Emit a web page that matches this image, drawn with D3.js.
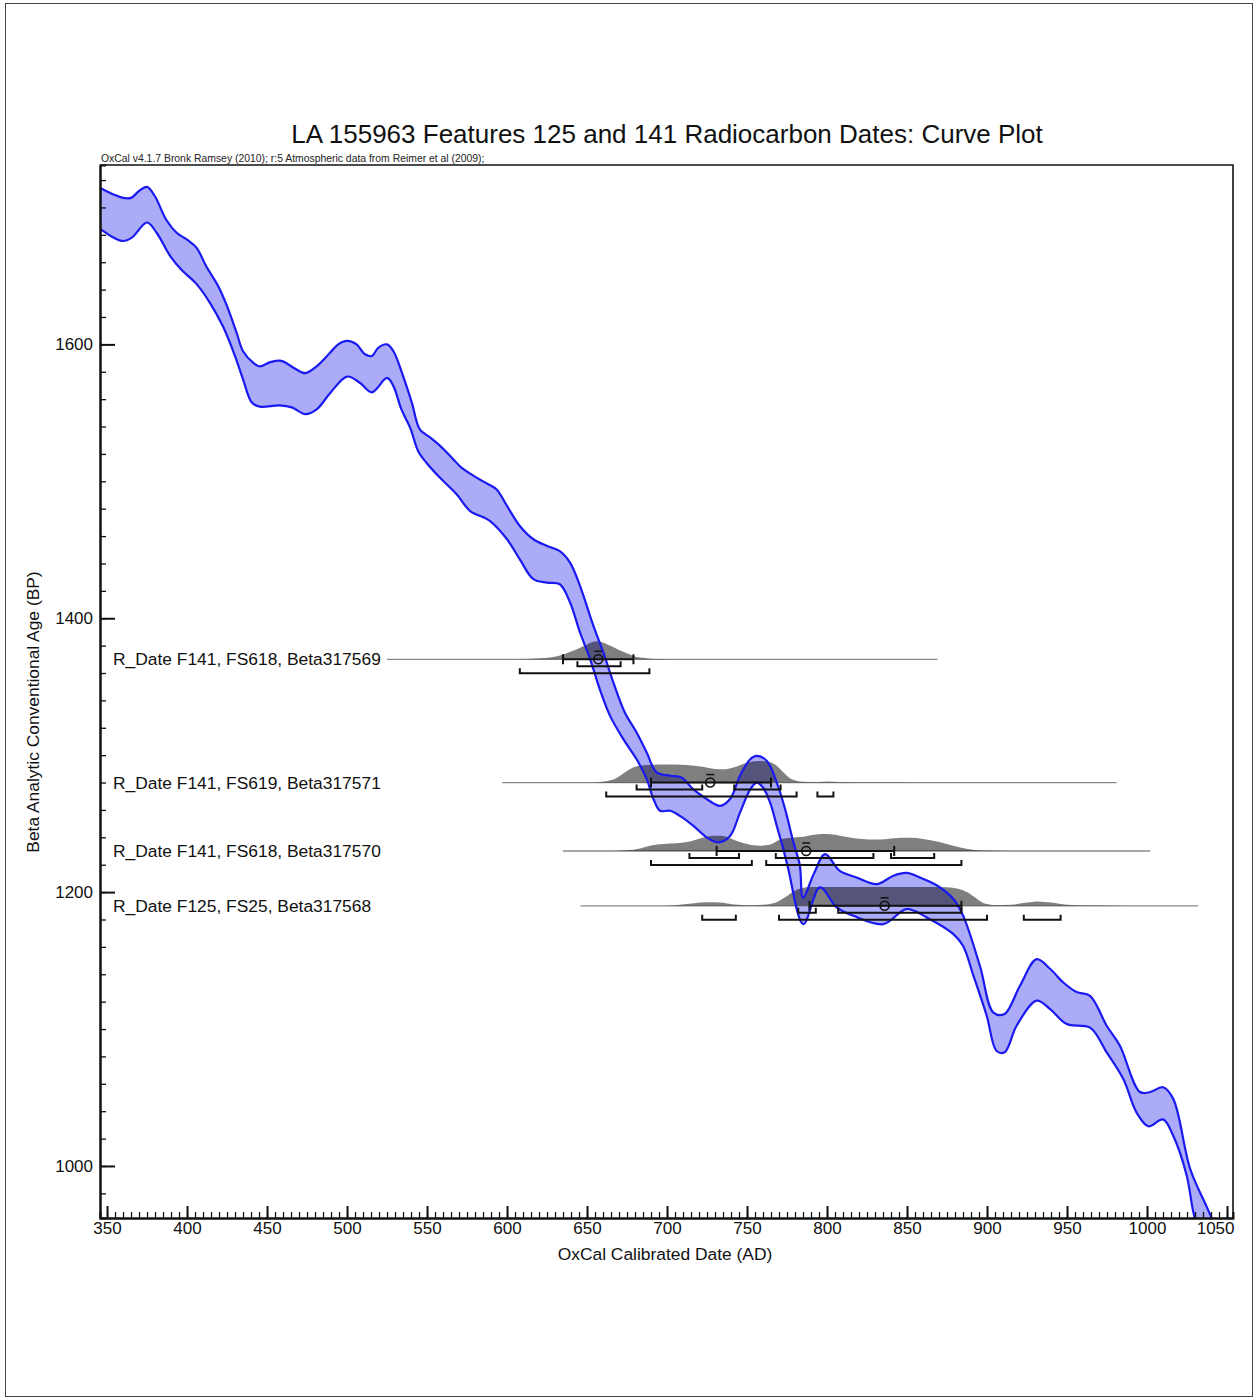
<!DOCTYPE html>
<html>
<head>
<meta charset="utf-8">
<script src="https://cdn.jsdelivr.net/npm/d3@7"></script>
<style>
  body { margin: 0; background: #fff; font-family: "Liberation Sans", Arial, sans-serif; }
</style>
</head>
<body>
<svg id="chart"></svg>
<script>
(() => {

  // calibration curve (IntCal09 band), [cal AD, BP]
  const curveUpper = [
    [340,1717],[346,1714],[354,1709.5],[360,1707],[365,1707],[370,1712],[375,1715],[380,1708],[387,1691],
    [393.5,1681.5],[400,1676.5],[406,1670.5],[412,1657],[419.5,1642.5],[425,1628],[431,1608.5],
    [435,1595],[441.5,1586.5],[445.5,1584],[452,1587],[459,1588],[466.5,1583],[474,1579],[481,1584],
    [489.5,1594],[494.5,1600],[500,1602.5],[506,1600],[511,1593],[515.5,1591.5],[519.5,1597.5],
    [525,1600],[529,1595],[535,1577],[540.5,1557.5],[545.5,1538],[552,1532],[559,1525],[566.5,1516],
    [571.5,1510],[581,1502.7],[588,1498],[593.5,1494],[600,1482],[608,1467.4],[616.5,1457.7],
    [625,1452.8],[633,1449],[639.4,1440.6],[645.6,1423.6],[654,1394.4],[660.2,1375],[666.5,1353],
    [673.7,1331],[681,1316.6],[687.3,1302],[693.5,1287.4],[702,1285],[709,1283.7],[716.5,1275],
    [724.8,1268],[733,1263],[739.4,1268],[745.6,1285],[752,1297],[756,1299.5],[762.3,1296],
    [768.6,1280],[773.8,1260.6],[779,1236.3],[783,1219.6],[785,1196],[792,1214],[798.8,1227.7],
    [808,1215.5],[818.5,1210.7],[831,1205.8],[841.5,1212],[849.8,1214],[858,1210.7],[868.5,1205],
    [879,1195],[885,1183],[895.6,1146],[904,1112],[911,1111],[920.6,1131.6],[931,1151],[939.4,1144],
    [947.7,1134],[956,1127],[964.4,1124.3],[974.8,1102.4],[983,1088],[995.6,1054],[1002,1054],
    [1010,1057.5],[1016.4,1049],[1027,997.8],[1037,971],[1045,950]
  ];
  const curveLower = [
    [340,1688],[346,1684],[354,1678],[360,1675.5],[365.5,1678],[375,1689],[381,1681.5],[389.5,1664.5],
    [396.5,1654.5],[406,1644],[414.5,1630],[422.5,1613],[430,1591.5],[435,1574.5],[440.5,1557.5],
    [445.5,1554.5],[458,1555.5],[465.5,1554],[474,1549],[481,1552.5],[489.5,1564.5],[500,1576.5],
    [508,1572],[515.5,1565],[525,1575.5],[529,1569.5],[534,1552.5],[539.5,1539],[544.5,1522],
    [550,1513],[558,1502.7],[568.5,1490.5],[577,1478.3],[589.4,1471],[600,1457.7],[608,1443],
    [616.5,1428.5],[625,1426],[633,1424.8],[639.4,1411.5],[645.6,1389.6],[652,1370],[658,1348],
    [664.4,1328.7],[672.7,1311.7],[681,1297],[687.3,1282.5],[691.5,1268],[695.6,1259.4],[702,1259.4],
    [708,1255.7],[716.5,1248.4],[724.8,1240],[732,1236.3],[739.4,1241],[745.6,1258],[752,1275],
    [756,1280],[760,1276.4],[764.4,1265.5],[768.6,1248.4],[772.7,1231.4],[775.8,1216.8],[785.2,1176.6],
    [795.6,1203.4],[806,1188.8],[816.5,1182.7],[835.2,1176.6],[849.8,1187.6],[862.3,1181.5],
    [879,1169.3],[885,1160.8],[891.5,1139],[899.8,1109.7],[906,1084],[911,1083],[918.5,1102.4],
    [931,1120.7],[939.4,1114.6],[949.8,1103.6],[964.4,1101],[974.8,1083],[985.2,1063.5],[993.5,1039],
    [1000.8,1029],[1010,1034],[1016.4,1022],[1024.8,993],[1029,966],[1035,940]
  ];

  // samples, top to bottom
  const sampleNames = [
    'R_Date F141, FS618, Beta317569',
    'R_Date F141, FS619, Beta317571',
    'R_Date F141, FS618, Beta317570',
    'R_Date F125, FS25, Beta317568'
  ];
  const sampleAges = [1370, 1280, 1230, 1190];
  const sampleSpans = [[525, 869], [597, 981], [635, 1002], [646, 1032]];
  const sampleMeanSigma = [[635, 679], [690, 765], [731, 842], [789, 884]];
  const sampleMedians = [657, 727, 787, 836];
  const ranges68 = [
    [[644, 671]],
    [[681, 722], [742, 771]],
    [[714, 745], [768, 829], [840, 867]],
    [[782, 793], [807, 884]]
  ];
  const ranges95 = [
    [[608, 689]],
    [[662, 781], [794, 804]],
    [[690, 753], [762, 884]],
    [[722, 743], [770, 900], [923, 946]]
  ];

  // calibrated probability, [cal AD, relative density]
  const prob317569 = [
    [598,0],[612,0.02],[624,0.06],[632,0.15],[640,0.35],[648,0.6],[653,0.78],[656,0.82],[660,0.77],
    [665,0.6],[670,0.42],[676,0.24],[681,0.1],[688,0.04],[696,0.01],[706,0]
  ];
  const prob317571 = [
    [648,0],[658,0.03],[667,0.15],[674,0.48],[680,0.72],[688,0.8],[700,0.82],[712,0.8],[722,0.72],
    [730,0.62],[735,0.6],[742,0.7],[750,0.9],[757,0.98],[763,0.95],[768,0.8],[773,0.45],[778,0.15],
    [785,0.04],[795,0.02],[800,0.05],[808,0.02],[830,0.01],[860,0]
  ];
  const prob317570 = [
    [664,0],[675,0.03],[683,0.12],[690,0.25],[698,0.32],[706,0.35],[715,0.45],[722,0.6],[729,0.7],
    [735,0.68],[742,0.5],[750,0.32],[758,0.24],[764,0.28],[770,0.5],[777,0.6],[785,0.65],[793,0.75],
    [800,0.77],[808,0.7],[815,0.6],[822,0.55],[830,0.52],[838,0.55],[846,0.6],[852,0.6],[860,0.55],
    [868,0.45],[876,0.3],[884,0.15],[892,0.05],[900,0.02],[915,0]
  ];
  const prob317568 = [
    [690,0],[705,0.03],[717,0.12],[725,0.16],[733,0.15],[742,0.06],[752,0.03],[762,0.06],[768,0.15],
    [774,0.4],[779,0.65],[784,0.8],[790,0.85],[800,0.86],[820,0.86],[840,0.86],[860,0.86],[875,0.84],
    [882,0.78],[888,0.6],[893,0.35],[898,0.12],[905,0.04],[915,0.05],[925,0.15],[932,0.2],[940,0.15],
    [950,0.05],[965,0.02],[990,0]
  ];
  const sampleProbs = [prob317569, prob317571, prob317570, prob317568];

  const xMajorTicks = d3.range(350, 1051, 50);
  const xMinorTicks = d3.range(350, 1054, 5);
  const yMajorTicks = [1000, 1200, 1400, 1600];
  const yMinorTicks = d3.range(980, 1731, 20);

  const svgWidth = 1256;
  const svgHeight = 1400;
  const plot = { left: 100, top: 165, right: 1233, bottom: 1218 };

  const svg = d3.select('#chart')
    .attr('width', svgWidth)
    .attr('height', svgHeight);

  svg.append('rect')
    .attr('x', 5.5).attr('y', 3.5)
    .attr('width', 1247).attr('height', 1393)
    .attr('fill', 'none')
    .attr('stroke', '#444')
    .attr('stroke-width', 1);

  const xScale = d3.scaleLinear()
    .domain([345.6, 1053.75])
    .range([plot.left, plot.right]);

  const yScale = d3.scaleLinear()
    .domain([962, 1731])
    .range([plot.bottom, plot.top]);

  const hScale = d3.scaleLinear().domain([0, 1]).range([0, 22]);

  // titles
  svg.append('text')
    .attr('x', 667).attr('y', 143)
    .attr('text-anchor', 'middle')
    .attr('font-size', 26)
    .attr('fill', '#111')
    .text('LA 155963 Features 125 and 141 Radiocarbon Dates: Curve Plot');

  svg.append('text')
    .attr('x', 101).attr('y', 162)
    .attr('font-size', 10.4)
    .attr('fill', '#222')
    .text('OxCal v4.1.7 Bronk Ramsey (2010); r:5 Atmospheric data from Reimer et al (2009);');

  svg.append('text')
    .attr('x', 665).attr('y', 1260)
    .attr('text-anchor', 'middle')
    .attr('font-size', 17.4)
    .attr('fill', '#111')
    .text('OxCal Calibrated Date (AD)');

  svg.append('text')
    .attr('transform', 'translate(39,712) rotate(-90)')
    .attr('text-anchor', 'middle')
    .attr('font-size', 17.4)
    .attr('fill', '#111')
    .text('Beta Analytic Conventional Age (BP)');

  // frame top/right
  svg.append('path')
    .attr('d', `M${plot.left},${plot.top}H${plot.right}V${plot.bottom}`)
    .attr('fill', 'none')
    .attr('stroke', '#111')
    .attr('stroke-width', 1.6);

  svg.append('clipPath').attr('id', 'plotClip')
    .append('rect')
    .attr('x', plot.left).attr('y', plot.top)
    .attr('width', plot.right - plot.left)
    .attr('height', plot.bottom - plot.top);

  const g = svg.append('g').attr('clip-path', 'url(#plotClip)');

  // curve band
  const edge = d3.line()
    .x(d => xScale(d[0]))
    .y(d => yScale(d[1]))
    .curve(d3.curveCatmullRom.alpha(0.5));

  const bandPath = edge(curveUpper) + edge(curveLower.slice().reverse()).replace(/^M/, 'L') + 'Z';

  g.append('path')
    .attr('d', bandPath)
    .attr('fill', 'rgba(45,45,235,0.4)')
    .attr('stroke', 'none');

  // distributions
  sampleNames.forEach((name, i) => {
    const yb = yScale(sampleAges[i]);

    g.append('line')
      .attr('x1', xScale(sampleSpans[i][0])).attr('x2', xScale(sampleSpans[i][1]))
      .attr('y1', yb).attr('y2', yb)
      .attr('stroke', '#8a8a8a')
      .attr('stroke-width', 1.3);

    const area = d3.area()
      .x(d => xScale(d[0]))
      .y0(yb)
      .y1(d => yb - hScale(d[1]))
      .curve(d3.curveMonotoneX);

    g.append('path')
      .datum(sampleProbs[i])
      .attr('d', area)
      .attr('fill', 'rgba(0,0,0,0.5)');

    svg.append('text')
      .attr('x', 113).attr('y', yb + 6)
      .attr('font-size', 17.4)
      .attr('fill', '#111')
      .text(name);
  });

  // curve edges
  [curveUpper, curveLower].forEach(d => {
    g.append('path')
      .attr('d', edge(d))
      .attr('fill', 'none')
      .attr('stroke', '#1a1af0')
      .attr('stroke-width', 2.2);
  });

  // ranges and medians
  sampleNames.forEach((name, i) => {
    const yb = yScale(sampleAges[i]);
    const ms = sampleMeanSigma[i];

    const bracket = (r, yy, up) => {
      const x1 = xScale(r[0]);
      const x2 = xScale(r[1]);
      g.append('path')
        .attr('d', up
          ? `M${x1},${yy - 5}V${yy}H${x2}V${yy - 5}`
          : `M${x1},${yy - 5}V${yy + 5}M${x1},${yy}H${x2}M${x2},${yy - 5}V${yy + 5}`)
        .attr('fill', 'none')
        .attr('stroke', '#111')
        .attr('stroke-width', 2);
    };

    bracket(ms, yb, false);
    ranges68[i].forEach(r => bracket(r, yb + 7, true));
    ranges95[i].forEach(r => bracket(r, yb + 14, true));

    const mx = xScale(sampleMedians[i]);
    g.append('circle')
      .attr('cx', mx).attr('cy', yb)
      .attr('r', 4.5)
      .attr('fill', 'none')
      .attr('stroke', '#111')
      .attr('stroke-width', 1.6);
    g.append('line')
      .attr('x1', mx - 4).attr('x2', mx + 4)
      .attr('y1', yb - 8).attr('y2', yb - 8)
      .attr('stroke', '#111')
      .attr('stroke-width', 1.5);
  });

  // axes
  const styleAxis = (sel, w) => {
    sel.selectAll('.tick line').attr('stroke', '#111').attr('stroke-width', w);
    sel.select('.domain').attr('stroke', '#111').attr('stroke-width', 2);
    sel.selectAll('text').attr('font-family', '"Liberation Sans", Arial, sans-serif')
      .attr('font-size', 17).attr('fill', '#111');
  };

  const xMinor = svg.append('g')
    .attr('transform', `translate(0, ${plot.bottom})`)
    .call(d3.axisBottom(xScale).tickValues(xMinorTicks).tickSize(-6).tickFormat(''));
  styleAxis(xMinor, 1.3);

  const xMajor = svg.append('g')
    .attr('transform', `translate(0, ${plot.bottom})`)
    .call(d3.axisBottom(xScale).tickValues(xMajorTicks).tickSizeInner(-12).tickSizeOuter(0)
      .tickPadding(4).tickFormat(d3.format('d')));
  styleAxis(xMajor, 2);
  xMajor.selectAll('.tick text')
    .filter(d => d === 1050)
    .attr('text-anchor', 'end')
    .attr('x', 7);

  const yMinor = svg.append('g')
    .attr('transform', `translate(${plot.left}, 0)`)
    .call(d3.axisLeft(yScale).tickValues(yMinorTicks).tickSize(-6).tickFormat(''));
  styleAxis(yMinor, 1.3);

  const yMajor = svg.append('g')
    .attr('transform', `translate(${plot.left}, 0)`)
    .call(d3.axisLeft(yScale).tickValues(yMajorTicks).tickSizeInner(-15).tickSizeOuter(0)
      .tickPadding(7).tickFormat(d3.format('d')));
  styleAxis(yMajor, 2);

})();
</script>
</body>
</html>
